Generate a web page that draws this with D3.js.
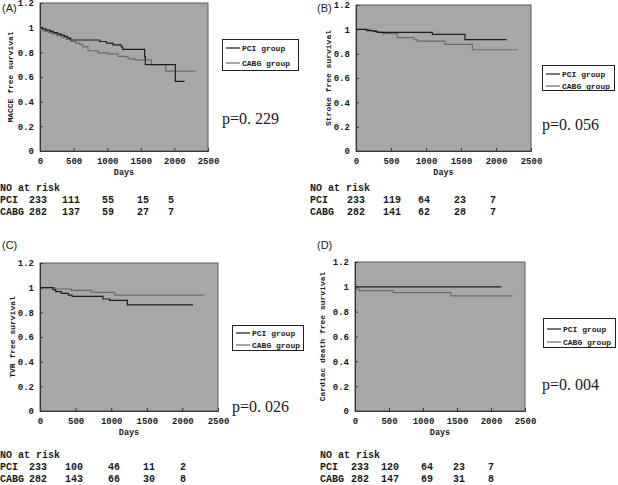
<!DOCTYPE html>
<html><head><meta charset="utf-8">
<script src="https://cdn.jsdelivr.net/npm/d3@7"></script>
<style>body{margin:0;background:#fff}svg{display:block}</style>
</head><body>
<svg id="c" width="618" height="485"></svg>
<script>
// ---- data ----
const xTicks = [0, 500, 1000, 1500, 2000, 2500];
const yTicks = [0, 0.2, 0.4, 0.6, 0.8, 1, 1.2];
const groups = ["PCI group", "CABG group"];
const riskRows = ["PCI", "CABG"];

const pciA = [[0,1],[40,0.99],[90,0.98],[150,0.97],[200,0.96],[260,0.95],[310,0.94],[360,0.93],[410,0.915],[456,0.9],[888,0.888],[987,0.875],[1086,0.86],[1210,0.845],[1230,0.824],[1557,0.765],[1567,0.70],[2014,0.565],[2153,0.565]];
const cabgA = [[0,1],[10,0.98],[60,0.97],[120,0.96],[180,0.95],[250,0.935],[320,0.92],[390,0.905],[456,0.888],[530,0.875],[590,0.865],[640,0.845],[714,0.813],[863,0.795],[1012,0.787],[1160,0.768],[1310,0.747],[1409,0.739],[1657,0.70],[1870,0.648],[2311,0.648]];
const pciB = [[0,1],[150,0.99],[257,0.983],[305,0.975],[1090,0.958],[1557,0.916],[2152,0.916]];
const cabgB = [[0,1],[200,0.99],[280,0.977],[376,0.964],[590,0.932],[829,0.915],[876,0.903],[1271,0.876],[1662,0.832],[2314,0.832]];
const pciC = [[0,1],[180,0.984],[220,0.968],[300,0.954],[400,0.94],[450,0.93],[885,0.908],[978,0.897],[1227,0.86],[2149,0.86]];
const cabgC = [[0,1],[206,0.989],[440,0.978],[721,0.962],[1049,0.94],[2313,0.94]];
const pciD = [[0,1],[2152,1]];
const cabgD = [[0,1],[25,0.981],[60,0.97],[564,0.954],[1407,0.927],[2314,0.927]];

const riskPciA = [233,111,55,15,5],  riskCabgA = [282,137,59,27,7];
const riskPciB = [233,119,64,23,7],  riskCabgB = [282,141,62,28,7];
const riskPciC = [233,100,46,11,2],  riskCabgC = [282,143,66,30,8];
const riskPciD = [233,120,64,23,7],  riskCabgD = [282,147,69,31,8];

const panelLabels = ["(A)", "(B)", "(C)", "(D)"];
const yTitles = ["MACCE free survival", "Stroke free survival", "TVR free survival", "Cardiac death free survival"];
const pValues = ["p=0. 229", "p=0. 056", "p=0. 026", "p=0. 004"];

// ---- layout ----
const panels = [
  {lab:[2,12], x0:40, x1:208, y0:3, y1:151, ytx:10, pci:pciA, cabg:cabgA, leg:[222,39,76,31,48,63], p:[222,124],
   tab:{x:0, y:190.5, cols:[29,62,102,137,168]}, rp:riskPciA, rc:riskCabgA},
  {lab:[317,12], x0:356, x1:531, y0:5, y1:151, ytx:328, pci:pciB, cabg:cabgB, leg:[542,65,72,25,74,86], p:[542,130],
   tab:{x:310, y:190.5, cols:[347,383,418,454,490]}, rp:riskPciB, rc:riskCabgB},
  {lab:[2,249], x0:40, x1:218, y0:263, y1:411, ytx:12, pci:pciC, cabg:cabgC, leg:[232,325,71,25,333,345], p:[232,412],
   tab:{x:0, y:458, cols:[29,65,108,143,180]}, rp:riskPciC, rc:riskCabgC},
  {lab:[317,249], x0:355, x1:525, y0:262, y1:411, ytx:322, pci:pciD, cabg:cabgD, leg:[543,318,72,29,329,342], p:[542,390],
   tab:{x:320, y:458, cols:[351,381,421,453,488]}, rp:riskPciD, rc:riskCabgD}
];

const svg = d3.select("#c");
const mono = "'Liberation Mono','DejaVu Sans Mono',monospace";
const txtCol = "#1a1a1a";
const colPCI = "#1c1c1c", colCABG = "#6c6c6c";

panels.forEach((P, i) => {
  const g = svg.append("g");
  const x = d3.scaleLinear().domain([0, 2500]).range([P.x0, P.x1]);
  const y = d3.scaleLinear().domain([0, 1.2]).range([P.y1, P.y0]);

  g.append("text").attr("x", P.lab[0]).attr("y", P.lab[1]).text(panelLabels[i])
    .attr("font-family", "'Liberation Sans',Arial,sans-serif").attr("font-size", 11).attr("fill", txtCol);

  g.append("rect").attr("x", P.x0).attr("y", P.y0).attr("width", P.x1 - P.x0).attr("height", P.y1 - P.y0)
    .attr("fill", "#a7a7a7").attr("stroke", "#5a5a5a").attr("stroke-width", 1);

  // axes
  const ax = g.append("g").attr("transform", `translate(0,${P.y1})`)
    .call(d3.axisBottom(x).tickValues(xTicks).tickSize(-3).tickPadding(7).tickFormat(d3.format("d")));
  const ay = g.append("g").attr("transform", `translate(${P.x0},0)`)
    .call(d3.axisLeft(y).tickValues(yTicks).tickSize(-3).tickPadding(6).tickFormat(d => d === 0 || d === 1 ? String(d) : d.toFixed(1)));
  [ax, ay].forEach(a => {
    a.select(".domain").attr("stroke", "#333");
    a.selectAll(".tick line").attr("stroke", "#333");
    a.selectAll("text").attr("font-family", mono).attr("font-weight", "bold").attr("font-size", 9).attr("fill", txtCol);
  });

  g.append("text").attr("x", (P.x0 + P.x1) / 2).attr("y", P.y1 + 24).attr("text-anchor", "middle")
    .text("Days").attr("font-family", mono).attr("font-weight", "bold").attr("font-size", 8.5).attr("fill", txtCol);

  g.append("text").attr("transform", `translate(${P.ytx},${(P.y0 + P.y1) / 2}) rotate(-90)`)
    .attr("text-anchor", "middle").attr("dy", "0.35em").text(yTitles[i])
    .attr("font-family", mono).attr("font-weight", "bold").attr("font-size", 8).attr("fill", txtCol);

  // curves
  const line = d3.line().x(d => x(d[0])).y(d => y(d[1])).curve(d3.curveStepAfter);
  g.append("path").datum(P.cabg).attr("d", line).attr("fill", "none").attr("stroke", colCABG).attr("stroke-width", 1.2);
  g.append("path").datum(P.pci).attr("d", line).attr("fill", "none").attr("stroke", colPCI).attr("stroke-width", 1.2);

  // legend
  const [lx, ly, lw, lh, r1, r2] = P.leg;
  g.append("rect").attr("x", lx + 0.5).attr("y", ly + 0.5).attr("width", lw).attr("height", lh)
    .attr("fill", "#fff").attr("stroke", "#222").attr("stroke-width", 1);
  [[r1, colPCI], [r2, colCABG]].forEach(([ry, c], k) => {
    g.append("line").attr("x1", lx + 4).attr("x2", lx + 18).attr("y1", ry).attr("y2", ry).attr("stroke", c).attr("stroke-width", 1.2);
    g.append("text").attr("x", lx + 20).attr("y", ry).attr("dy", "0.33em").text(groups[k])
      .attr("font-family", mono).attr("font-weight", "bold").attr("font-size", 8).attr("fill", txtCol);
  });

  // p value
  g.append("text").attr("x", P.p[0]).attr("y", P.p[1]).text(pValues[i])
    .attr("font-family", "'Liberation Serif','DejaVu Serif',serif").attr("font-size", 16).attr("fill", txtCol);

  // risk table
  const T = P.tab;
  const tt = (xx, yy, s) => g.append("text").attr("x", xx).attr("y", yy).text(s)
    .attr("font-family", mono).attr("font-weight", "bold").attr("font-size", 10).attr("fill", txtCol);
  tt(T.x, T.y, "NO at risk");
  [P.rp, P.rc].forEach((vals, k) => {
    const yy = T.y + 12 * (k + 1);
    tt(T.x, yy, riskRows[k]);
    vals.forEach((v, j) => tt(T.cols[j], yy, String(v)));
  });
});
</script>
</body></html>
